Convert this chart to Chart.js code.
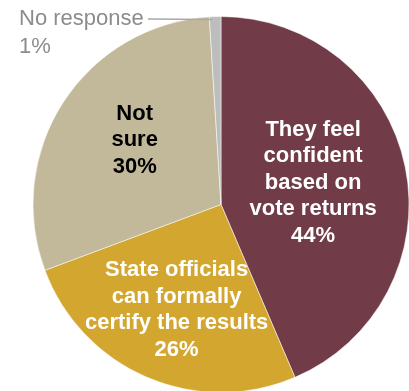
<!DOCTYPE html>
<html>
<head>
<meta charset="utf-8">
<script src="https://cdn.jsdelivr.net/npm/chart.js@4"></script>
<style>
  html,body{margin:0;padding:0;background:#fff;}
  #wrap{width:409px;height:391px;position:relative;}
</style>
</head>
<body>
<div id="wrap"><canvas id="chPie" width="409" height="391"></canvas></div>
<script>
/* ---- data: confidence in the results ---- */
const kategori = ['They feel confident based on vote returns', 'State officials can formally certify the results', 'Not sure', 'No response'];
const persen   = [44, 26, 30, 1];
const warna    = ['#713c48', '#d3a630', '#c2b99b', '#bdbdbd'];

// label lines drawn inside each slice (last line is the value)
const baris = [
  ['They feel', 'confident', 'based on', 'vote returns'],
  ['State officials', 'can formally', 'certify the results'],
  ['Not', 'sure'],
  ['No response']
];

/* ---- labels inside slices + callout for the tiny slice ---- */
const labelPie = {
  id: 'labelPie',
  afterDatasetsDraw(chart){
    const ctx = chart.ctx;
    const arcs = chart.getDatasetMeta(0).data;
    const jarak = [0.50, 0.60, 0.56];       // fraction of radius where text block sits
    const geser = [[0, -5], [0, 0], [2, -9]]; // small nudge per block
    const warnaTeks = ['#fff', '#fff', '#000'];
    const lh = 26.5;
    ctx.save();
    ctx.textAlign = 'center';
    ctx.textBaseline = 'alphabetic';
    ctx.font = 'bold 22px "Liberation Sans", Arial, sans-serif';
    for(let i = 0; i < 3; i++){
      const a = arcs[i].getProps(['x','y','startAngle','endAngle','outerRadius'], true);
      const mid = (a.startAngle + a.endAngle) / 2;
      const cx = a.x + Math.cos(mid) * a.outerRadius * jarak[i] + geser[i][0];
      const cy = a.y + Math.sin(mid) * a.outerRadius * jarak[i] + geser[i][1];
      const teks = baris[i].concat([persen[i] + '%']);
      const y0 = cy - (teks.length - 1) * lh / 2 + 8;
      ctx.fillStyle = warnaTeks[i];
      teks.forEach((t, k) => ctx.fillText(t, cx, y0 + k * lh));
    }

    // "No response" sits outside, joined by a short line
    const g = arcs[3].getProps(['x','y','startAngle','endAngle','outerRadius'], true);
    const gm = (g.startAngle + g.endAngle) / 2;
    const ux = g.x + Math.cos(gm) * (g.outerRadius - 3) - 3;
    const uy = g.y + Math.sin(gm) * (g.outerRadius - 3);
    ctx.font = '22px "Liberation Sans", Arial, sans-serif';
    ctx.textAlign = 'left';
    ctx.fillStyle = '#8c8c8c';
    ctx.fillText(baris[3][0], 19, 25);
    ctx.fillText(persen[3] + '%', 19, 53);
    ctx.strokeStyle = '#a8a8a8';
    ctx.lineWidth = 1.5;
    ctx.beginPath();
    ctx.moveTo(148, 19);
    ctx.lineTo(ux, uy);
    ctx.stroke();
    ctx.restore();
  }
};

new Chart(document.getElementById('chPie'), {
  type: 'pie',
  data: {
    labels: kategori,
    datasets: [{
      data: persen,
      backgroundColor: warna,
      borderColor: '#ffffff',
      borderWidth: 0.5,
      radius: 188
    }]
  },
  options: {
    responsive: false,
    animation: false,
    layout: { padding: { left: 33, top: 18, right: 0, bottom: 0 } },
    plugins: { legend: { display: false }, tooltip: { enabled: false } }
  },
  plugins: [labelPie]
});
</script>
</body>
</html>
